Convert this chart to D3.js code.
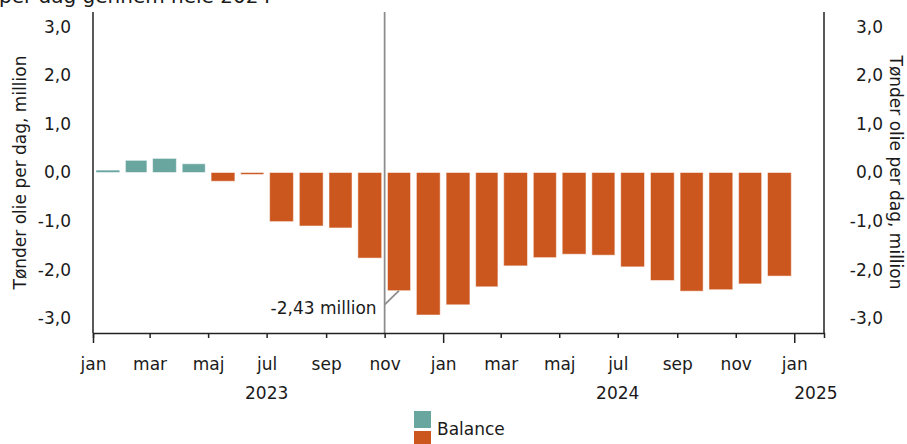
<!DOCTYPE html>
<html>
<head>
<meta charset="utf-8">
<script src="https://cdn.jsdelivr.net/npm/d3@7"></script>
<style>
  body { margin: 0; background: #fff; }
  svg text { font-family: 'DejaVu Sans', sans-serif; fill: #1a1a1a; }
</style>
</head>
<body>
<div id="chart"></div>
<script>
// monthly oil market balance, million barrels per day
const months = ['2023-01', '2023-02', '2023-03', '2023-04', '2023-05', '2023-06',
    '2023-07', '2023-08', '2023-09', '2023-10', '2023-11', '2023-12',
    '2024-01', '2024-02', '2024-03', '2024-04', '2024-05', '2024-06',
    '2024-07', '2024-08', '2024-09', '2024-10', '2024-11', '2024-12'];
const balance = [0.05, 0.25, 0.29, 0.18, -0.18, -0.04,
    -1.01, -1.10, -1.14, -1.76, -2.43, -2.93,
    -2.72, -2.35, -1.92, -1.75, -1.68, -1.70,
    -1.94, -2.22, -2.44, -2.41, -2.29, -2.13];
const yTicks = [3, 2, 1, 0, -1, -2, -3];
const monthNames = ['jan', 'feb', 'mar', 'apr', 'maj', 'jun', 'jul', 'aug', 'sep', 'okt', 'nov', 'dec'];
const years = ['2023', '2024', '2025'];
const markerMonth = '2023-11';
const markerLabel = '-2,43 million';
const yTitle = 'Tønder olie per dag, million';
const titleTail = 'per dag gennem hele 2024';
const legendLabel = 'Balance';

const width = 907;
const height = 444;
const margin = { top: 12, right: 83, bottom: 111, left: 93 };
const colors = { pos: '#6aa6a0', neg: '#cc571e' };
const fontSize = '17px';

const parse = d3.timeParse('%Y-%m');
const data = months.map((m, i) => ({ date: parse(m), value: balance[i] }));

const svg = d3.select('#chart').append('svg')
    .attr('width', width)
    .attr('height', height);

const x = d3.scaleTime()
    .domain([parse('2023-01'), parse('2025-02')])
    .range([margin.left, width - margin.right]);

const y = d3.scaleLinear()
    .domain([-3.3, 3.3])
    .range([height - margin.bottom, margin.top]);

const fmt = d3.formatLocale({ decimal: ',', thousands: '.', grouping: [3], currency: ['', ''], minus: '-' }).format('.1f');

// cut-off title line at the top
svg.append('text')
    .attr('x', -1)
    .attr('y', 3)
    .style('font-size', '20px')
    .text(titleTail);

// bars
svg.append('g')
    .selectAll('rect')
    .data(data)
    .enter()
    .append('rect')
    .attr('x', (d) => {
        const w = x(d3.timeMonth.offset(d.date, 1)) - x(d.date);
        return x(d.date) + w * 0.1;
    })
    .attr('width', (d) => 0.8 * (x(d3.timeMonth.offset(d.date, 1)) - x(d.date)))
    .attr('y', (d) => y(Math.max(0, d.value)))
    .attr('height', (d) => Math.abs(y(d.value) - y(0)))
    .style('fill', (d) => (d.value >= 0 ? colors.pos : colors.neg))
    .style('stroke', '#fff')
    .style('stroke-opacity', 0.5)
    .style('stroke-width', 1);

// marker line + annotation
const mDate = parse(markerMonth);
const mVal = balance[months.indexOf(markerMonth)];
const mx = x(mDate);
const mMid = x(d3.timeDay.offset(mDate, 15));
svg.append('line')
    .attr('x1', mx).attr('x2', mx)
    .attr('y1', y(3.3)).attr('y2', y(-3.3))
    .style('stroke', '#8c8c8c')
    .style('stroke-width', 1.75);
svg.append('line')
    .attr('x1', mx).attr('y1', y(mVal) + 14)
    .attr('x2', mMid).attr('y2', y(mVal))
    .style('stroke', '#8c8c8c')
    .style('stroke-width', 1.75);
svg.append('text')
    .attr('x', mx - 8)
    .attr('y', y(mVal) + 17)
    .attr('dy', '0.35em')
    .style('text-anchor', 'end')
    .style('font-size', fontSize)
    .text(markerLabel);

// axes frame
const axisColor = '#222';
svg.append('line')
    .attr('x1', x.range()[0]).attr('x2', x.range()[0])
    .attr('y1', y.range()[1]).attr('y2', y.range()[0])
    .style('stroke', axisColor).style('stroke-width', 1.5);
svg.append('line')
    .attr('x1', x.range()[1]).attr('x2', x.range()[1])
    .attr('y1', y.range()[1]).attr('y2', y.range()[0])
    .style('stroke', axisColor).style('stroke-width', 1.5);

// y labels, both sides
svg.append('g')
    .selectAll('text')
    .data(yTicks)
    .enter()
    .append('text')
    .attr('x', 71)
    .attr('y', (d) => y(d))
    .attr('dy', '0.35em')
    .style('text-anchor', 'end')
    .style('font-size', fontSize)
    .text((d) => fmt(d));

svg.append('g')
    .selectAll('text')
    .data(yTicks)
    .enter()
    .append('text')
    .attr('x', 883)
    .attr('y', (d) => y(d))
    .attr('dy', '0.35em')
    .style('text-anchor', 'end')
    .style('font-size', fontSize)
    .text((d) => fmt(d));

const yMid = (y.range()[0] + y.range()[1]) / 2;
svg.append('text')
    .attr('transform', `translate(20, ${yMid}) rotate(-90)`)
    .attr('dy', '0.35em')
    .style('text-anchor', 'middle')
    .style('font-size', fontSize)
    .text(yTitle);
svg.append('text')
    .attr('transform', `translate(896, ${yMid}) rotate(90)`)
    .attr('dy', '0.35em')
    .style('text-anchor', 'middle')
    .style('font-size', fontSize)
    .text(yTitle);

// x axis
const xTicks = d3.timeMonth.range(parse('2023-01'), parse('2025-02'), 2);
const xAxis = d3.axisBottom(x)
    .tickValues(xTicks)
    .tickSizeOuter(0)
    .tickSize(5)
    .tickFormat((d) => monthNames[d.getMonth()]);

const gx = svg.append('g')
    .attr('transform', `translate(0, ${y.range()[0]})`)
    .call(xAxis);
gx.select('.domain').style('stroke', axisColor).style('stroke-width', 1.5);
gx.selectAll('.tick line')
    .style('stroke', axisColor)
    .style('stroke-width', 1.5)
    .attr('y2', (d) => (d.getMonth() === 0 ? 10 : 5));
gx.selectAll('.tick text')
    .attr('y', 25)
    .style('font-size', fontSize)
    .style('font-family', "'DejaVu Sans', sans-serif")
    .style('fill', '#1a1a1a');

svg.append('g')
    .selectAll('text')
    .data(years)
    .enter()
    .append('text')
    .attr('x', (d) => {
        const mid = parse(`${d}-07`);
        return mid < x.domain()[1] ? x(mid) : x(parse(`${d}-01`));
    })
    .attr('y', 393)
    .attr('dy', '0.35em')
    .style('text-anchor', (d) => (parse(`${d}-07`) < x.domain()[1] ? 'middle' : 'start'))
    .style('font-size', fontSize)
    .text((d) => d);

// legend
const legend = svg.append('g')
    .attr('transform', 'translate(414, 411)');
legend.append('rect')
    .attr('width', 17).attr('height', 17)
    .style('fill', colors.pos);
legend.append('rect')
    .attr('y', 20)
    .attr('width', 17).attr('height', 17)
    .style('fill', colors.neg);
legend.append('text')
    .attr('x', 23)
    .attr('y', 18)
    .attr('dy', '0.35em')
    .style('font-size', fontSize)
    .text(legendLabel);
</script>
</body>
</html>
